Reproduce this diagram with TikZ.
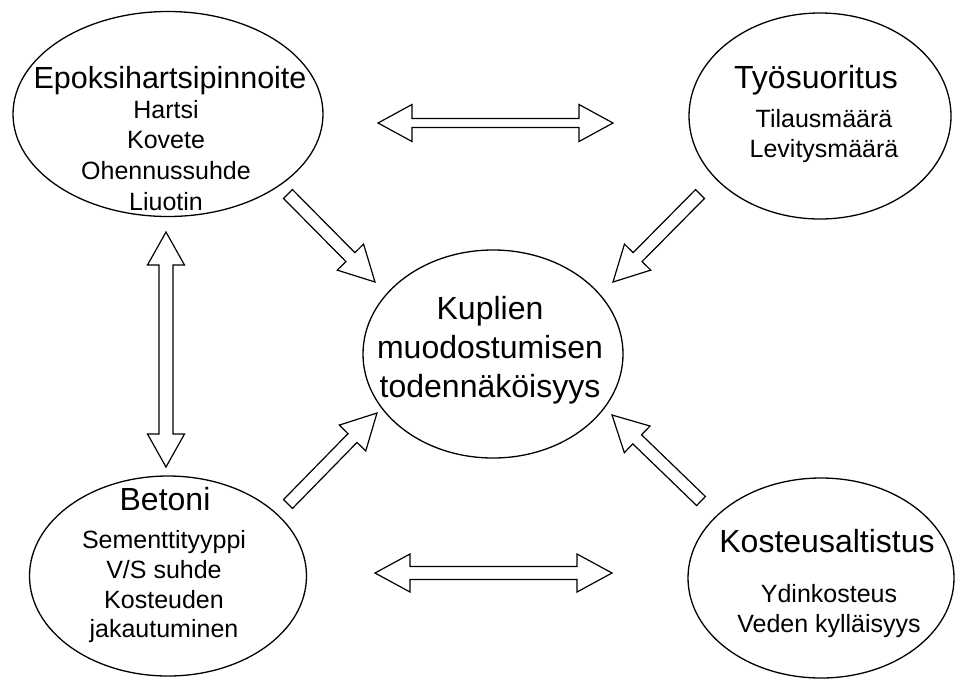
\documentclass[tikz,border=0pt]{standalone}
\usepackage{fontspec}
\setmainfont{Liberation Sans}
\usetikzlibrary{calc,shapes.geometric}
\tikzset{
  bubble/.style={draw=black, line width=1.3pt, ellipse, inner sep=0pt, fill=white},
  ttl/.style={anchor=base, inner sep=0pt, font=\fontsize{32}{36}\selectfont},
  itm/.style={anchor=base, inner sep=0pt, font=\fontsize{25}{30}\selectfont},
  blk/.style={draw=black, line width=1.2pt, fill=white, line join=miter},
}
\newcommand\singlearr[5]{% tail, tip, shaft half, head half, head length
  \coordinate (sahb) at ($(#2)!#5!(#1)$);
  \draw[blk] ($(#1)!#3!90:(#2)$) -- ($(sahb)!#3!-90:(#1)$) -- ($(sahb)!#4!-90:(#1)$) -- (#2)
    -- ($(sahb)!#4!90:(#1)$) -- ($(sahb)!#3!90:(#1)$) -- ($(#1)!#3!-90:(#2)$) -- cycle;}
\newcommand\doublearr[5]{% end A, end B, shaft half, head half, head length
  \coordinate (dahA) at ($(#1)!#5!(#2)$);
  \coordinate (dahB) at ($(#2)!#5!(#1)$);
  \draw[blk] (#1) -- ($(dahA)!#4!90:(#2)$) -- ($(dahA)!#3!90:(#2)$) -- ($(dahB)!#3!-90:(#1)$)
    -- ($(dahB)!#4!-90:(#1)$) -- (#2) -- ($(dahB)!#4!90:(#1)$) -- ($(dahB)!#3!90:(#1)$)
    -- ($(dahA)!#3!-90:(#2)$) -- ($(dahA)!#4!-90:(#2)$) -- cycle;}
\begin{document}
\begin{tikzpicture}[x=1pt,y=1pt]
\useasboundingbox (0,0) rectangle (957,-678);
% ellipses
\node[bubble, minimum width=310pt, minimum height=205pt] (epoksi) at (168,-114) {};
\node[bubble, minimum width=262pt, minimum height=206pt] (tyo) at (820,-116) {};
\node[bubble, minimum width=260pt, minimum height=208pt] (kuplat) at (493,-354) {};
\node[bubble, minimum width=277pt, minimum height=200pt] (betoni) at (168,-576) {};
\node[bubble, minimum width=266pt, minimum height=200pt] (kosteus) at (821,-578) {};
% texts
\node[ttl, font=\fontsize{30.5}{36}\selectfont] (t1) at (170,-88) {Epoksihartsipinnoite};
\node[itm] (t1a) at (166,-118) {Hartsi};
\node[itm] (t1b) at (166,-148) {Kovete};
\node[itm] (t1c) at (166,-179) {Ohennussuhde};
\node[itm] (t1d) at (166,-210) {Liuotin};
\node[ttl] (t2) at (816,-88) {Työsuoritus};
\node[itm] (t2a) at (824,-127) {Tilausmäärä};
\node[itm] (t2b) at (824,-157) {Levitysmäärä};
\node[ttl] (t3a) at (490,-319) {Kuplien};
\node[ttl] (t3b) at (490,-358) {muodostumisen};
\node[ttl] (t3c) at (490,-397) {todennäköisyys};
\node[ttl] (t4) at (165,-510) {Betoni};
\node[itm] (t4a) at (164,-548) {Sementtityyppi};
\node[itm] (t4b) at (164,-578) {V/S suhde};
\node[itm] (t4c) at (164,-608) {Kosteuden};
\node[itm] (t4d) at (164,-637) {jakautuminen};
\node[ttl] (t5) at (827,-552) {Kosteusaltistus};
\node[itm] (t5a) at (829,-602) {Ydinkosteus};
\node[itm] (t5b) at (829,-632) {Veden kylläisyys};
% arrow end points
\coordinate (ha1) at (378,-123);
\coordinate (hb1) at (613,-123);
\coordinate (ha2) at (375,-573);
\coordinate (hb2) at (612,-573);
\coordinate (va) at (166,-232);
\coordinate (vb) at (166,-467);
\coordinate (d1t) at (288,-194);
\coordinate (d1h) at (375,-282);
\coordinate (d2t) at (700,-194);
\coordinate (d2h) at (613,-282);
\coordinate (d3t) at (288,-504);
\coordinate (d3h) at (377,-413);
\coordinate (d4t) at (701,-501);
\coordinate (d4h) at (612,-415);
% arrows
\doublearr{ha1}{hb1}{4.5pt}{18.5pt}{34pt}
\doublearr{ha2}{hb2}{6.5pt}{19pt}{35pt}
\doublearr{va}{vb}{7pt}{18.5pt}{33pt}
\singlearr{d1t}{d1h}{6.3pt}{18.5pt}{35pt}
\singlearr{d2t}{d2h}{6.3pt}{18.5pt}{35pt}
\singlearr{d3t}{d3h}{6.3pt}{18.5pt}{35pt}
\singlearr{d4t}{d4h}{6.3pt}{18.5pt}{35pt}
\end{tikzpicture}
\end{document}
